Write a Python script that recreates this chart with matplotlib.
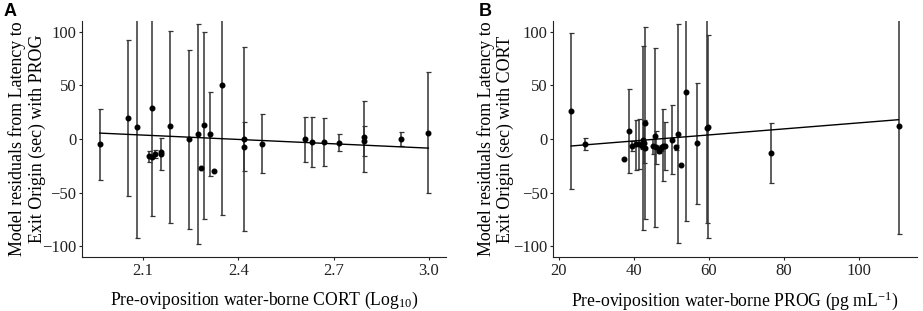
import matplotlib.pyplot as plt
import numpy as np

# Panel A: residuals vs CORT (Log10)
cort_x = [1.963, 2.051, 2.079, 2.118, 2.127, 2.128, 2.138, 2.157, 2.157, 2.186, 2.244, 2.272, 2.282,
          2.292, 2.311, 2.322, 2.350, 2.419, 2.419, 2.476, 2.610, 2.631, 2.669, 2.718, 2.795, 2.795,
          2.912, 2.999]
cort_y = [-5, 19.6, 11, -16, 28.5, -17, -14, -12, -14, 12, 0, 5, -27,
          13, 4.7, -30, 50, 0, -7, -4.3, 0, -2.5, -2.5, -3.4, 2.2, -2.2,
          0, 6]
cort_lo = [-38, -53, -92, -21, -72, np.nan, -18, -29, np.nan, -78, -83.5, -97.5, np.nan,
           -74.5, -34.5, np.nan, -71, -86, -30, -32, -21, -26, -25, -11, -31, -16,
           -6.5, -50]
cort_hi = [28, 92.5, 130, -11, 130, np.nan, -10, 1, np.nan, 100.6, 83, 107, np.nan,
           100, 43.5, np.nan, 130, 86, 15.5, 23.6, 20.5, 20.5, 20, 4.3, 35.7, 12.4,
           6.5, 62.7]
# model fit line
cort_fit_x = [1.963, 2.999]
cort_fit_y = [5.5, -8.5]

# Panel B: residuals vs PROG (pg/mL)
prog_x = [23.3, 27.0, 37.4, 38.7, 39.5, 40.7, 41.4, 42.1, 42.4, 42.7, 43.0, 43.0, 45.2, 45.6,
          45.8, 46.6, 47.3, 47.8, 48.4, 50.1, 51.2, 51.7, 52.7, 53.9, 57.0, 59.5, 59.8, 76.5,
          110.7]
prog_y = [26, -4.3, -19, 7.8, -6.5, -5, -4.7, -6.5, -1.2, -4, 15, -8, -6.5, 2.8,
          -7, -11, -8, -6.5, -6.2, -0.6, -7.8, 5, -24, 43.5, -4, 10.2, 11, -12.7,
          11.8]
prog_lo = [-47, -10, np.nan, -32, -11, -28.6, -27.6, -9, -85, -22, -75, np.nan, -13.7, -81.7,
           -23, -13, -11.5, -39, -29, -33, -10, -96.6, np.nan, -76.7, -60.6, -78, -92, -40.7,
           -89]
prog_hi = [99, 1, np.nan, 46.6, -2, 18, 18.3, -4, 87, 18, 104.7, np.nan, 0, 85,
           7.5, -8, -5.6, 28, 16, 32, -5.9, 107, np.nan, 130, 52, 130, 96.6, 15,
           130]
prog_fit_x = [23.3, 110.7]
prog_fit_y = [-6.5, 18]

plt.rcParams['font.family'] = ['Liberation Serif', 'DejaVu Serif']
plt.rcParams['mathtext.fontset'] = 'custom'
plt.rcParams['mathtext.rm'] = 'Liberation Serif'
plt.rcParams['mathtext.it'] = 'Liberation Serif:italic'

fig = plt.figure(figsize=(9.23, 3.11), dpi=100)
ax1 = fig.add_axes([0.0888, 0.1736, 0.3942, 0.7589])
ax2 = fig.add_axes([0.5995, 0.1736, 0.3935, 0.7589])


def draw_panel(ax, x, y, lo, hi, fx, fy, xlim, xticks, xlabel, ylabel, ylab_x):
    x = np.array(x)
    y = np.array(y)
    lo = np.array(lo)
    hi = np.array(hi)
    yerr = [y - lo, hi - y]
    ax.errorbar(x, y, yerr=yerr, fmt='o', color='black', ecolor='#333333',
                elinewidth=1.1, capsize=1.8, capthick=0.9, markersize=3.3)
    ax.plot(fx, fy, color='black', linewidth=1.0)
    ax.set_xlim(xlim)
    ax.set_ylim(-110, 110)
    ax.set_xticks(xticks)
    ax.set_yticks([-100, -50, 0, 50, 100])
    ax.spines['top'].set_visible(False)
    ax.spines['right'].set_visible(False)
    ax.spines['left'].set_color('#222222')
    ax.spines['bottom'].set_color('#222222')
    ax.tick_params(labelsize=12, length=2.5, width=0.8, colors='#222222', pad=1.5)
    ax.set_xlabel(xlabel, fontsize=12.7, labelpad=8)
    ax.set_ylabel(ylabel, fontsize=12.9, linespacing=1.15)
    ax.yaxis.set_label_coords(ylab_x, 0.5)


draw_panel(ax1, cort_x, cort_y, cort_lo, cort_hi, cort_fit_x, cort_fit_y,
           (1.907, 3.054), [2.1, 2.4, 2.7, 3.0],
           'Pre-oviposition water-borne CORT (Log$_{10}$)',
           'Model residuals from Latency to\nExit Origin (sec) with PROG', -0.100)
draw_panel(ax2, prog_x, prog_y, prog_lo, prog_hi, prog_fit_x, prog_fit_y,
           (18.5, 115.5), [20, 40, 60, 80, 100],
           'Pre-oviposition water-borne PROG (pg mL$^{\\mathrm{-1}}$)',
           'Model residuals from Latency to\nExit Origin (sec) with CORT', -0.108)
ax1.set_xticklabels(['2.1', '2.4', '2.7', '3.0'])

fig.text(0.004, 0.99, 'A', fontsize=13, fontweight='bold', family='Liberation Sans', va='top')
fig.text(0.519, 0.99, 'B', fontsize=13, fontweight='bold', family='Liberation Sans', va='top')

plt.savefig('out.png', dpi=100)
plt.close()
